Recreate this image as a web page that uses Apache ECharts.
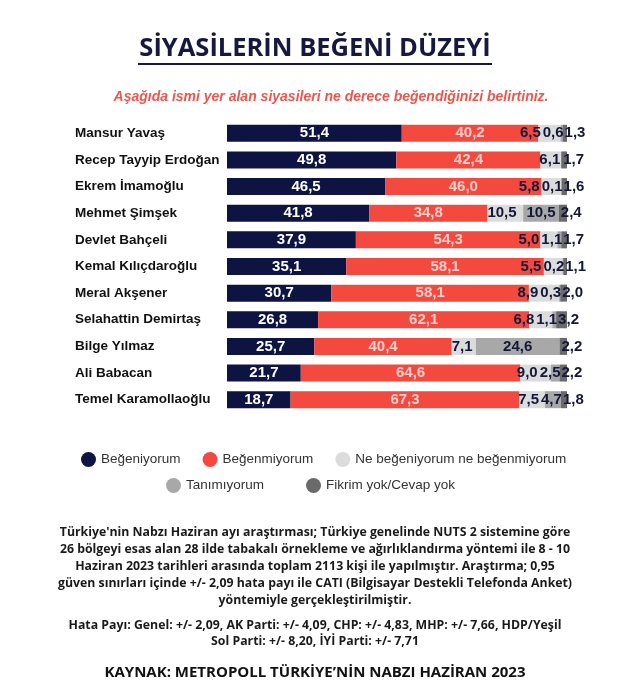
<!DOCTYPE html>
<html><head><meta charset="utf-8">
<script src="https://cdn.jsdelivr.net/npm/echarts@6/dist/echarts.min.js"></script>
<style>html,body{margin:0;padding:0;background:#fff;}#c{width:630px;height:694px;}</style>
</head><body><div id="c"></div>
<script>
const names = ["Mansur Yavaş","Recep Tayyip Erdoğan","Ekrem İmamoğlu","Mehmet Şimşek","Devlet Bahçeli","Kemal Kılıçdaroğlu","Meral Akşener","Selahattin Demirtaş","Bilge Yılmaz","Ali Babacan","Temel Karamollaoğlu"];
const begeniyorum = [51.4,49.8,46.5,41.8,37.9,35.1,30.7,26.8,25.7,21.7,18.7];
const begenmiyorum = [40.2,42.4,46.0,34.8,54.3,58.1,58.1,62.1,40.4,64.6,67.3];
const neNe = [6.5,6.1,5.8,10.5,5.0,5.5,8.9,6.8,7.1,9.0,7.5];
const tanimiyorum = [0.6,0,0.1,10.5,1.1,0.2,0.3,1.1,24.6,2.5,4.7];
const fikrimYok = [1.3,1.7,1.6,2.4,1.7,1.1,2.0,3.2,2.2,2.2,1.8];
const seriesNames = ["Beğeniyorum","Beğenmiyorum","Ne beğeniyorum ne beğenmiyorum","Tanımıyorum","Fikrim yok/Cevap yok"];
const colors = ["#0e1442","#f3493f","#dcdcdc","#a8a8a8","#6a6a6a"];
const footerLines = [
 "Türkiye'nin Nabzı Haziran ayı araştırması; Türkiye genelinde NUTS 2 sistemine göre",
 "26 bölgeyi esas alan 28 ilde tabakalı örnekleme ve ağırlıklandırma yöntemi ile 8 - 10",
 "Haziran 2023 tarihleri arasında toplam 2113 kişi ile yapılmıştır. Araştırma; 0,95",
 "güven sınırları içinde +/- 2,09 hata payı ile CATI (Bilgisayar Destekli Telefonda Anket)",
 "yöntemiyle gerçekleştirilmiştir."
];
const errorLines = [
 "Hata Payı: Genel: +/- 2,09, AK Parti: +/- 4,09, CHP: +/- 4,83, MHP: +/- 7,66, HDP/Yeşil",
 "Sol Parti: +/- 8,20, İYİ Parti: +/- 7,71"
];
const sourceText = "KAYNAK: METROPOLL TÜRKİYE’NİN NABZI HAZİRAN 2023";

const LABEL_FONT = 'bold 15px "Liberation Sans"';
const fmtVal = v => v > 0 ? v.toFixed(1).replace('.', ',') : '';
const fmt = p => fmtVal(p.value);
const dataSets = [begeniyorum, begenmiyorum, neNe, tanimiyorum, fikrimYok];
const labelColors = ['#ffffff','#f9d0cb','#14173a','#14173a','#14173a'];

function makeSeries(offsets){
  return dataSets.map((d,i)=>({
    name: seriesNames[i], type:'bar', stack:'t', barWidth:17,
    itemStyle:{color:colors[i]},
    data: d.map((v,j)=>{
      const item = {value:v};
      if (offsets && i>=2) item.label = {offset:[offsets[i][j],0]};
      return item;
    }),
    label:{show:true, formatter:fmt, fontFamily:'Liberation Sans', fontWeight:'bold', fontSize:15,
      position: i<2 ? 'inside' : 'insideLeft', distance: i<2 ? 5 : 0, color:labelColors[i]},
    emphasis:{disabled:true}
  }));
}

const graphics = [];
graphics.push({type:'text', x:315, y:49, style:{text:'SİYASİLERİN BEĞENİ DÜZEYİ', font:'bold 25.5px "Open Sans"', fill:'#17183f', align:'center', verticalAlign:'middle'}});
graphics.push({type:'rect', shape:{x:138,y:63,width:354,height:2}, style:{fill:'#17183f'}});
graphics.push({type:'text', x:331, y:97, style:{text:'Aşağıda ismi yer alan siyasileri ne derece beğendiğinizi belirtiniz.', font:'italic bold 14px "Liberation Sans"', fill:'#e9574e', align:'center', verticalAlign:'middle'}});
footerLines.forEach((t,i)=>graphics.push({type:'text', x:315, y:532+i*17, style:{text:t, font:'bold 12.3px "Open Sans"', fill:'#1a1a1a', align:'center', verticalAlign:'middle'}}));
errorLines.forEach((t,i)=>graphics.push({type:'text', x:315, y:625+i*16.5, style:{text:t, font:'bold 12.3px "Open Sans"', fill:'#1a1a1a', align:'center', verticalAlign:'middle'}}));
graphics.push({type:'text', x:315, y:673, style:{text:sourceText, font:'bold 15px "Open Sans"', fill:'#111', align:'center', verticalAlign:'middle'}});

const chart = echarts.init(document.getElementById('c'), null, {renderer:'canvas'});
const baseOption = {
  animation:false,
  backgroundColor:'#fff',
  grid:{left:227, top:120, width:340, height:293, containLabel:false},
  xAxis:{type:'value', min:0, max:100, show:false},
  yAxis:{type:'category', data:names, inverse:true, axisLine:{show:false}, axisTick:{show:false},
    axisLabel:{align:'left', margin:152, fontFamily:'Liberation Sans', fontWeight:'bold', fontSize:13.5, color:'#111'}},
  legend:[
    {data:seriesNames.slice(0,3), left:76, top:447, icon:'circle', itemWidth:15, itemHeight:15, itemGap:22,
     textStyle:{fontFamily:'Liberation Sans', fontSize:13.5, color:'#333'}, selectedMode:false},
    {data:seriesNames.slice(3), left:161, top:473, icon:'circle', itemWidth:15, itemHeight:15, itemGap:42,
     textStyle:{fontFamily:'Liberation Sans', fontSize:13.5, color:'#333'}, selectedMode:false}
  ],
  series: makeSeries(null),
  graphic: graphics
};
chart.setOption(baseOption);

// second pass: pack the small right-end labels so they do not overlap (as in the reference)
const ctx = document.createElement('canvas').getContext('2d');
ctx.font = LABEL_FONT;
const tw = s => ctx.measureText(s).width;
const offsets = [null,null,[],[],[]];
names.forEach((n,j)=>{
  let acc = begeniyorum[j] + begenmiyorum[j];
  const starts = [], ends = [];
  [neNe, tanimiyorum, fikrimYok].forEach(arr=>{
    starts.push(chart.convertToPixel({gridIndex:0}, [acc, n])[0]);
    acc += arr[j];
    ends.push(chart.convertToPixel({gridIndex:0}, [acc, n])[0]);
  });
  const wNe = tw(fmtVal(neNe[j])), wTa = tw(fmtVal(tanimiyorum[j]));
  const fLeft = starts[2] + 2;
  let tRight = Math.min((starts[1]+ends[1])/2 + wTa/2, fLeft - 1);
  let tLeft = tRight - wTa;
  if (wTa === 0) tLeft = fLeft - 1;
  let nRight = Math.min(starts[0] + wNe, tLeft - 2);
  let nLeft = nRight - wNe;
  offsets[2][j] = nLeft - starts[0];
  offsets[3][j] = tLeft - starts[1];
  offsets[4][j] = fLeft - starts[2];
});
chart.setOption({series: makeSeries(offsets)});
</script></body></html>
